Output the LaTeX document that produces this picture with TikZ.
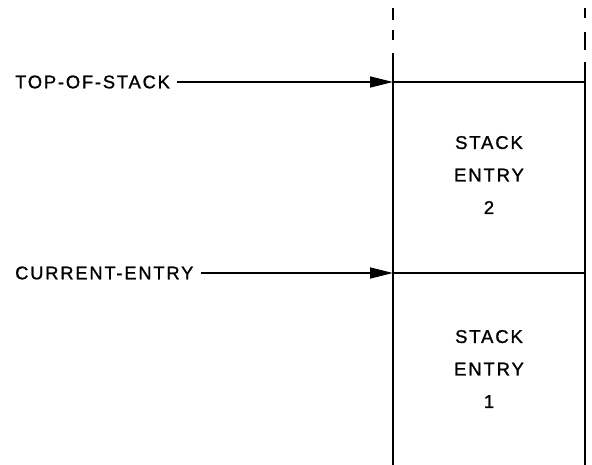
\documentclass[tikz,border=0pt]{standalone}
\usepackage{fontspec}
\setmainfont[LetterSpace=10,FakeBold=1.2]{Liberation Sans}
\usetikzlibrary{arrows.meta}
\begin{document}
\begin{tikzpicture}[x=1pt,y=-1pt,
  lbl/.style={font=\fontsize{18.3}{20}\selectfont, inner sep=0pt},
  entrytxt/.style={font=\fontsize{18.5}{32.5}\selectfont, align=center, inner sep=0pt},
  wall/.style={line width=2.8pt},
  ptr/.style={line width=1.4pt, shorten <=7pt, -{Triangle[length=23pt,width=11pt]}}]
\useasboundingbox (0,0) rectangle (592,465);
% vertical walls
\coordinate (Lt) at (393,53); \coordinate (Lb) at (393,465);
\coordinate (Rt) at (585,62); \coordinate (Rb) at (585,465);
\draw[wall] (Lt) -- (Lb);
\draw[wall] (Rt) -- (Rb);
\draw[wall] (393,8) -- (393,20) (393,30) -- (393,40);
\draw[wall] (585,8) -- (585,18) (585,32) -- (585,50);
% horizontal dividers
\coordinate (topL) at (393,82); \coordinate (topR) at (585,82);
\coordinate (curL) at (393,273); \coordinate (curR) at (585,273);
\draw[wall] (topL) -- (topR);
\draw[wall] (curL) -- (curR);
% labels and pointers
\node[lbl, anchor=west] (tos) at (15,82) {TOP-OF-STACK};
\node[lbl, anchor=west] (cur) at (15,273) {CURRENT-ENTRY};
\draw[ptr] (tos.east) -- (topL);
\draw[ptr] (cur.east) -- (curL);
% entries
\node[entrytxt] (e2) at (489,175) {STACK\\ENTRY\\2};
\node[entrytxt] (e1) at (489,369) {STACK\\ENTRY\\1};
\end{tikzpicture}
\end{document}
